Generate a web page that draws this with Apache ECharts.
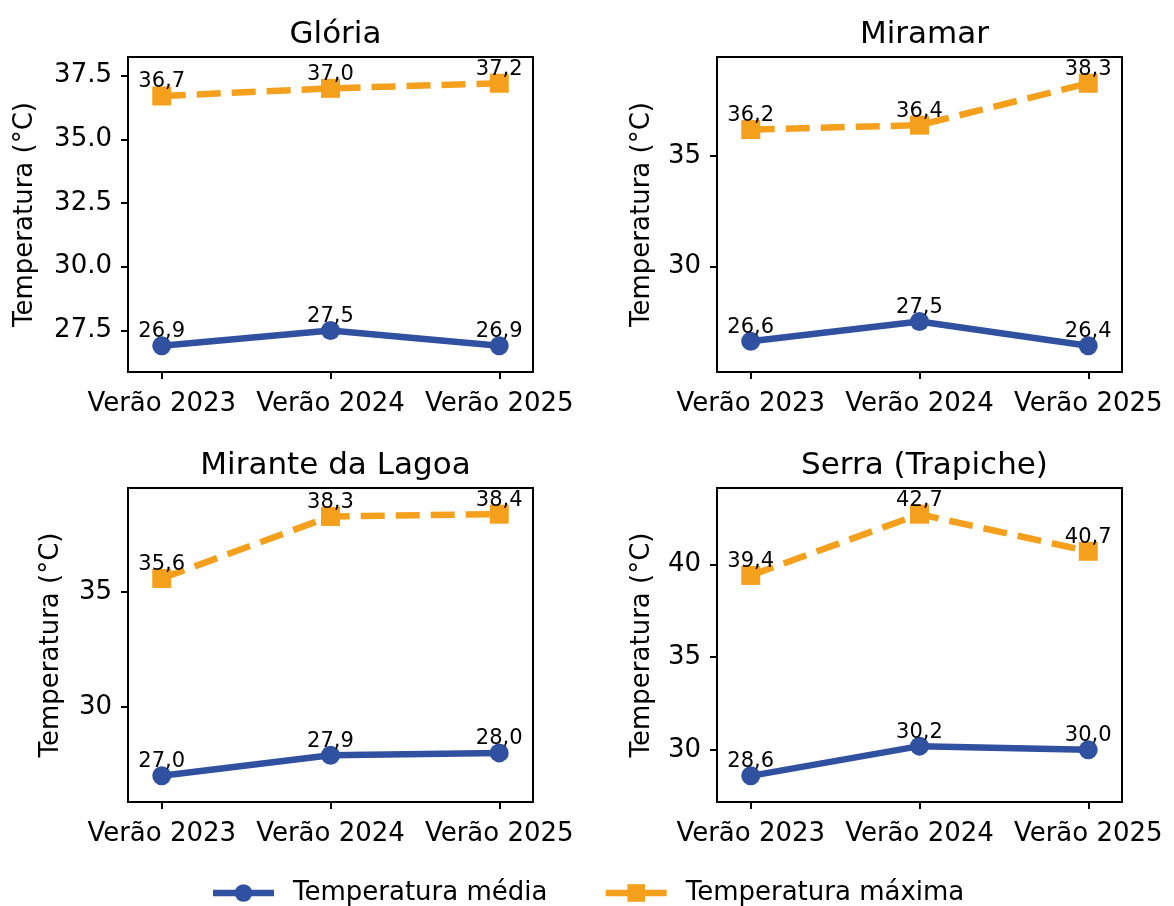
<!DOCTYPE html>
<html>
<head>
<meta charset="utf-8">
<script src="https://cdn.jsdelivr.net/npm/echarts@6/dist/echarts.min.js"></script>
<style>
html,body{margin:0;padding:0;background:#fff}
#box{width:1174px;height:906px}
</style>
</head>
<body>
<div id="box"></div>
<script>
// dados
var categorias = ['Verão 2023', 'Verão 2024', 'Verão 2025'];
var locais = ['Glória', 'Miramar', 'Mirante da Lagoa', 'Serra (Trapiche)'];

var mediaGloria  = [26.9, 27.5, 26.9];
var maxGloria    = [36.7, 37.0, 37.2];
var mediaMiramar = [26.6, 27.5, 26.4];
var maxMiramar   = [36.2, 36.4, 38.3];
var mediaLagoa   = [27.0, 27.9, 28.0];
var maxLagoa     = [35.6, 38.3, 38.4];
var mediaSerra   = [28.6, 30.2, 30.0];
var maxSerra     = [39.4, 42.7, 40.7];

var ticksGloria  = [27.5, 30, 32.5, 35, 37.5];
var ticksMiramar = [30, 35];
var ticksLagoa   = [30, 35];
var ticksSerra   = [30, 35, 40];

var medias = [mediaGloria, mediaMiramar, mediaLagoa, mediaSerra];
var maximas = [maxGloria, maxMiramar, maxLagoa, maxSerra];
var ticks = [ticksGloria, ticksMiramar, ticksLagoa, ticksSerra];
var decimais = [1, 0, 0, 0];

var azul = '#3050a0';
var laranja = '#f5a01c';
var fonte = 'DejaVu Sans';

// posicao dos 4 paineis
var grades = [
	{left: 128, top: 57, width: 405, height: 315},
	{left: 717, top: 57, width: 405, height: 315},
	{left: 128, top: 488, width: 405, height: 314},
	{left: 717, top: 488, width: 405, height: 314}
];
var nameGaps = [90, 62, 64, 62];

function pontos(arr){
	var out = [];
	for(var i = 0; i < arr.length; i++){
		out.push([i, arr[i]]);
	}
	return out;
}

function rotulo(p){
	return p.value[1].toFixed(1).replace('.', ',');
}

var myChart = echarts.init(document.getElementById('box'));
var option = {
	backgroundColor: '#fff',
	animation: false,
	textStyle: {fontFamily: fonte},
	title: [],
	grid: [],
	xAxis: [],
	yAxis: [],
	series: [],
	legend: {
		data: ['Temperatura média', 'Temperatura máxima'],
		left: 'center',
		top: 875,
		itemWidth: 61,
		itemHeight: 22,
		itemGap: 55,
		lineStyle: {width: 6.5, type: 'solid'},
		textStyle: {fontSize: 26, color: '#000', fontFamily: fonte, padding: [0, 0, 0, 14]}
	}
};

for(var k = 0; k < 4; k++){
	var g = grades[k];
	var todos = medias[k].concat(maximas[k]);
	var lo = Math.min.apply(null, todos), hi = Math.max.apply(null, todos);
	var pad = (hi - lo) * 0.1;
	var dec = decimais[k];

	option.title.push({
		text: locais[k],
		left: g.left + g.width / 2,
		top: g.top - 43,
		textAlign: 'center',
		textStyle: {fontSize: 31, fontWeight: 'normal', color: '#000', fontFamily: fonte}
	});
	option.grid.push({
		left: g.left, top: g.top, width: g.width, height: g.height,
		show: true, borderColor: '#000', borderWidth: 2, backgroundColor: '#fff'
	});
	option.xAxis.push({
		type: 'value',
		gridIndex: k,
		min: -0.2,
		max: 2.2,
		splitLine: {show: false},
		axisLine: {show: false, onZero: false},
		axisTick: {show: true, length: 7, lineStyle: {color: '#000', width: 2}, customValues: [0, 1, 2]},
		axisLabel: {
			fontSize: 26, color: '#000', margin: 19,
			customValues: [0, 1, 2],
			formatter: function(v){ return categorias[Math.round(v)]; }
		}
	});
	option.yAxis.push({
		type: 'value',
		gridIndex: k,
		min: lo - pad,
		max: hi + pad,
		splitLine: {show: false},
		axisLine: {show: false, onZero: false},
		axisTick: {show: true, length: 7, lineStyle: {color: '#000', width: 2}, customValues: ticks[k]},
		axisLabel: {
			fontSize: 26, color: '#000', margin: 16,
			customValues: ticks[k],
			formatter: (function(d){ return function(v){ return v.toFixed(d); }; })(dec)
		},
		name: 'Temperatura (°C)',
		nameLocation: 'middle',
		nameGap: nameGaps[k],
		nameTextStyle: {fontSize: 26, color: '#000', fontFamily: fonte}
	});
	option.series.push({
		name: 'Temperatura média',
		type: 'line',
		xAxisIndex: k,
		yAxisIndex: k,
		data: pontos(medias[k]),
		symbol: 'circle',
		symbolSize: 19,
		color: azul,
		lineStyle: {width: 6.5, color: azul},
		label: {show: true, position: 'inside', offset: [0, -14], fontSize: 21, color: '#000', formatter: rotulo}
	});
	option.series.push({
		name: 'Temperatura máxima',
		type: 'line',
		xAxisIndex: k,
		yAxisIndex: k,
		data: pontos(maximas[k]),
		symbol: 'rect',
		symbolSize: 19,
		color: laranja,
		lineStyle: {width: 6.5, color: laranja, type: [24, 11]},
		label: {show: true, position: 'inside', offset: [0, -14], fontSize: 21, color: '#000', formatter: rotulo}
	});
}

myChart.setOption(option);
</script>
</body>
</html>
